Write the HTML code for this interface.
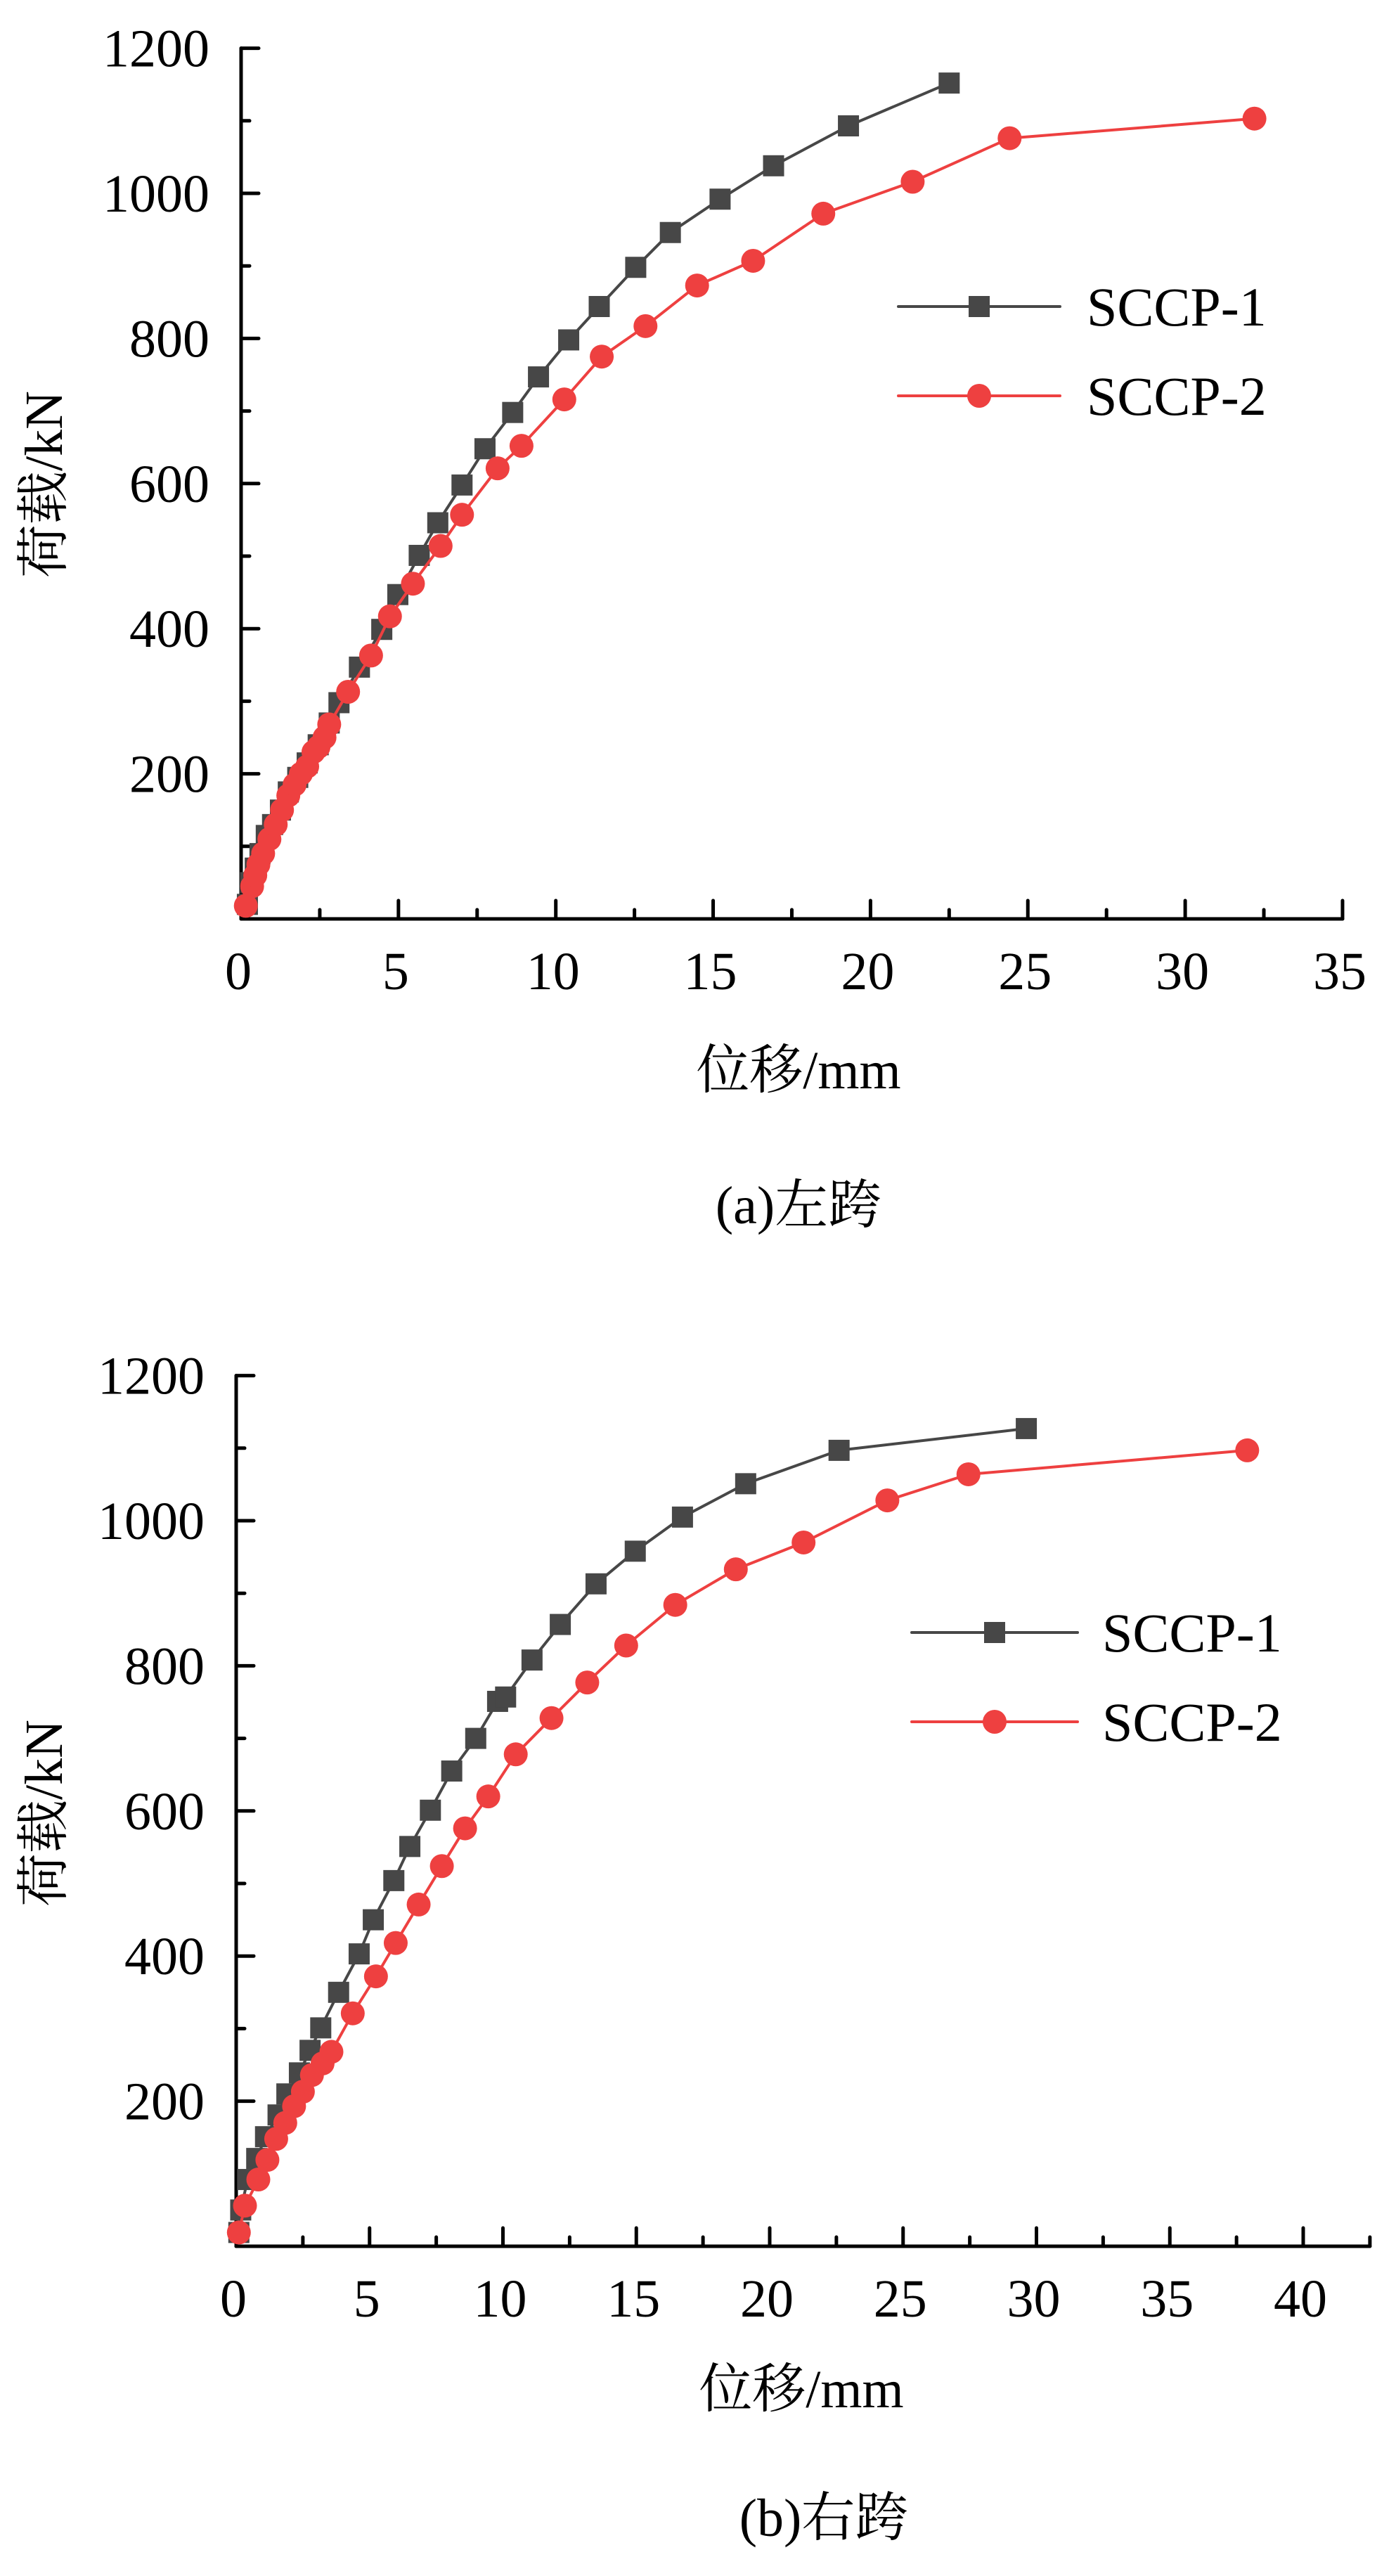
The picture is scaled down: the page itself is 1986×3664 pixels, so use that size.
<!DOCTYPE html>
<html><head><meta charset="utf-8">
<style>
html,body{margin:0;padding:0;background:#fff;}
svg{display:block;}
text{font-family:"Liberation Serif","Noto Serif CJK SC",serif;fill:#000;}
</style></head>
<body>
<svg id="fig" width="1986" height="3664" viewBox="0 0 1986 3664" xmlns="http://www.w3.org/2000/svg"></svg>
<script>
// ---- Chart (a) data ----
const aXTicks = [0,5,10,15,20,25,30,35];
const aYTicks = [200,400,600,800,1000,1200];
const aS1x = [0.2,0.3,0.45,0.6,0.8,1.0,1.25,1.5,1.8,2.1,2.45,2.8,3.11,3.76,4.47,4.98,5.66,6.25,7.02,7.75,8.63,9.45,10.41,11.38,12.54,13.64,15.22,16.92,19.3,22.5];
const aS1y = [20,50,70,90,115,130,150,175,195,215,240,270,298,347,399,447,501,546,598,648,698,747,798,844,898,946,992,1038,1093,1152];
const aS2x = [0.15,0.35,0.45,0.55,0.7,0.9,1.1,1.3,1.5,1.7,1.9,2.1,2.3,2.46,2.65,2.8,3.4,4.13,4.73,5.46,6.34,7.02,8.15,8.91,10.27,11.46,12.85,14.49,16.27,18.5,21.34,24.42,32.2];
const aS2y = [18,45,60,75,90,110,130,150,170,185,200,210,230,237,250,268,313,363,417,462,514,557,621,652,716,775,817,873,907,972,1016,1076,1103];
// ---- Chart (b) data ----
const bXTicks = [0,5,10,15,20,25,30,35,40];
const bYTicks = [200,400,600,800,1000,1200];
const bS1x = [0.1,0.17,0.43,0.77,1.1,1.57,1.9,2.37,2.77,3.17,3.84,4.61,5.14,5.91,6.51,7.28,8.08,8.98,9.8,10.1,11.09,12.15,13.49,14.96,16.73,19.1,22.6,29.62];
const bS1y = [19,50,92,121,151,181,210,239,270,301,350,403,450,504,551,601,655,700,751,757,808,857,913,958,1005,1051,1097,1127];
const bS2x = [0.1,0.33,0.83,1.17,1.5,1.84,2.17,2.5,2.84,3.24,3.57,4.37,5.24,5.98,6.84,7.71,8.58,9.45,10.48,11.82,13.16,14.62,16.46,18.73,21.27,24.41,27.45,37.9];
const bS2y = [19,56,92,119,148,170,193,213,236,252,268,321,372,418,471,524,576,620,678,728,777,828,884,933,970,1028,1064,1097];

const NS = "http://www.w3.org/2000/svg";
const svg = document.getElementById('fig');
function mk(tag, attrs, parent){
  const e = document.createElementNS(NS, tag);
  for (const k in attrs) e.setAttribute(k, attrs[k]);
  (parent||svg).appendChild(e);
  return e;
}
const C1 = "#474747", C2 = "#ee4040";
const SQ = 30, CR = 17;

function chart(cfg){
  const g = mk('g', {});
  
  
  const X = v => cfg.x0 + v * cfg.xs;
  const Y = v => cfg.y0 - v * cfg.ys;
  const ax = mk('line', {x1:cfg.x0, y1:cfg.y0, x2:X(cfg.xmax), y2:cfg.y0, stroke:'#000','stroke-width':5,'stroke-linecap':'round'}, g);
  
  
  const ay = mk('line', {x1:cfg.x0, y1:cfg.y0, x2:cfg.x0, y2:Y(1200), stroke:'#000','stroke-width':5,'stroke-linecap':'round'}, g);
  
  
  for (let v = 0; v <= cfg.xmax + 0.001; v += 2.5){
    const major = Math.abs(v/5 - Math.round(v/5)) < 0.01;
    const t = mk('line', {x1:X(v), y1:cfg.y0, x2:X(v), y2:cfg.y0 - (major?26:13), stroke:'#000','stroke-width':5,'stroke-linecap':'round'}, g);
    
    
  }
  cfg.xticks.forEach(v => {
    const t = mk('text', {x:X(v) - 4, y:cfg.y0 + 100, 'font-size':76, 'text-anchor':'middle'}, g);
    t.textContent = v;
    
    
  });
  for (let v = 100; v <= 1200; v += 100){
    const major = v % 200 === 0;
    const t = mk('line', {x1:cfg.x0, y1:Y(v), x2:cfg.x0 + (major?25:12), y2:Y(v), stroke:'#000','stroke-width':5,'stroke-linecap':'round'}, g);
    
    
  }
  cfg.yticks.forEach(v => {
    const t = mk('text', {x:cfg.x0 - 45, y:Y(v) + 26, 'font-size':76, 'text-anchor':'end'}, g);
    t.textContent = v;
    
    
  });
  const yt = mk('text', {x:0, y:0, 'font-size':76, 'text-anchor':'middle', transform:`translate(${cfg.ytx},${cfg.yty}) rotate(-90)`}, g);
  yt.textContent = '荷载/kN';
  
  
  const xt = mk('text', {x:cfg.xtx, y:cfg.xty, 'font-size':76, 'text-anchor':'middle'}, g);
  xt.textContent = '位移/mm';
  
  
  const cp = mk('text', {x:cfg.capx, y:cfg.capy, 'font-size':76, 'text-anchor':'middle'}, g);
  cp.textContent = cfg.caption;
  
  
  const series = [
    {xs:cfg.s1x, ys:cfg.s1y, c:C1, sq:true, n:'sccp-1'},
    {xs:cfg.s2x, ys:cfg.s2y, c:C2, sq:false, n:'sccp-2'}
  ];
  series.forEach(s => {
    const pts = s.xs.map((v,i) => X(v).toFixed(1) + ',' + Y(s.ys[i]).toFixed(1)).join(' ');
    const pl = mk('polyline', {points:pts, fill:'none', stroke:s.c, 'stroke-width':4, 'stroke-linejoin':'round'}, g);
    
    
    s.xs.forEach((v,i) => {
      let m;
      if (s.sq) m = mk('rect', {x:X(v)-SQ/2, y:Y(s.ys[i])-SQ/2, width:SQ, height:SQ, fill:s.c}, g);
      else m = mk('circle', {cx:X(v), cy:Y(s.ys[i]), r:CR, fill:s.c}, g);
      
      
    });
  });
  const lg = mk('g', {}, g);
  
  
  [['SCCP-1',C1,true,cfg.ly1],['SCCP-2',C2,false,cfg.ly2]].forEach(([lab,c,sq,ly]) => {
    const l = mk('line', {x1:cfg.lx1, y1:ly, x2:cfg.lx2, y2:ly, stroke:c, 'stroke-width':4, 'stroke-linecap':'round'}, lg);
    
    
    const mx = (cfg.lx1 + cfg.lx2)/2;
    let m;
    if (sq) m = mk('rect', {x:mx-SQ/2, y:ly-SQ/2, width:SQ, height:SQ, fill:c}, lg);
    else m = mk('circle', {cx:mx, cy:ly, r:CR, fill:c}, lg);
    
    
    const t = mk('text', {x:cfg.ltx, y:ly + 27, 'font-size':78}, lg);
    t.textContent = lab;
    
    
  });
}

chart({name:'chart-a-left-span', x0:343, y0:1307, xs:44.77, ys:1.032, xmax:35,
  xticks:aXTicks, yticks:aYTicks, s1x:aS1x, s1y:aS1y, s2x:aS2x, s2y:aS2y,
  ytx:88, yty:689, xtx:1136, xty:1548, capx:1136, capy:1740, caption:'(a)左跨',
  lx1:1278, lx2:1508, ly1:436, ly2:563, ltx:1546});
chart({name:'chart-b-right-span', x0:336, y0:3195, xs:37.95, ys:1.032, xmax:42.5,
  xticks:bXTicks, yticks:bYTicks, s1x:bS1x, s1y:bS1y, s2x:bS2x, s2y:bS2y,
  ytx:88, yty:2579, xtx:1140, xty:3424, capx:1172, capy:3607, caption:'(b)右跨',
  lx1:1297, lx2:1533, ly1:2322, ly2:2449, ltx:1568});
</script>
</body></html>
